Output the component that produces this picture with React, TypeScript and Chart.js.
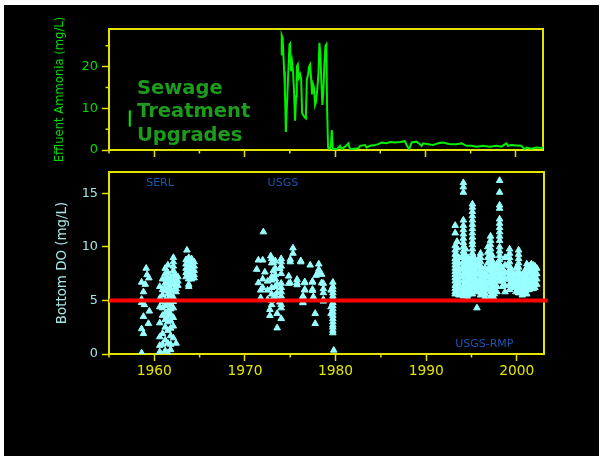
import React, { useEffect, useRef } from "react";
import { Chart, registerables } from "chart.js";

Chart.register(...registerables);

// ---- axis ranges -------------------------------------------------------
const YEAR_MIN = 1955;
const YEAR_MAX = 2003;
const AMMONIA_MAX = 29;
const DO_MAX = 17;

// ---- effluent ammonia (mg/L): [year, value] ----------------------------
const ammoniaSeries: [number, number][] = [
  [1974.04, 22.9], [1974.1, 27.5], [1974.2, 26.9], [1974.37, 18.9], [1974.45, 15.0],
  [1974.56, 4.3], [1974.74, 14.0], [1974.96, 25.3], [1975.03, 25.5], [1975.14, 18.9],
  [1975.25, 20.9], [1975.36, 18.5], [1975.47, 14.0], [1975.58, 7.0], [1975.69, 12.8],
  [1975.77, 20.0], [1975.88, 20.5], [1975.99, 17.3], [1976.14, 18.1], [1976.25, 16.9],
  [1976.36, 8.8], [1976.5, 8.3], [1976.66, 7.8], [1976.77, 7.6], [1976.88, 16.9],
  [1977.02, 18.1], [1977.13, 20.0], [1977.24, 20.5], [1977.35, 17.3], [1977.46, 13.3],
  [1977.57, 15.7], [1977.68, 14.9], [1977.79, 10.8], [1977.9, 11.6], [1978.01, 14.0],
  [1978.16, 18.1], [1978.27, 25.7], [1978.38, 22.9], [1978.49, 16.1], [1978.6, 10.8],
  [1978.71, 14.0], [1978.82, 20.5], [1978.93, 24.9], [1979.04, 25.3], [1979.12, 10.0],
  [1979.23, 0.6], [1979.37, 0.2], [1979.53, 0.8], [1979.64, 4.8], [1979.7, 2.4],
  [1979.78, 0.0], [1980.0, 0.3], [1980.18, 0.1], [1980.55, 1.0], [1980.74, 0.2],
  [1981.1, 0.8], [1981.47, 1.6], [1981.66, 0.2], [1982.57, 0.4], [1982.76, 1.0],
  [1983.3, 1.2], [1983.5, 0.6], [1983.86, 1.0], [1984.42, 1.2], [1984.78, 1.4],
  [1985.15, 1.8], [1985.7, 1.6], [1986.07, 1.9], [1986.62, 1.8], [1987.17, 1.9],
  [1987.73, 2.1], [1987.91, 1.2], [1988.2, 0.2], [1988.47, 1.8], [1989.02, 2.0],
  [1989.38, 1.4], [1989.57, 1.0], [1989.75, 1.6], [1990.3, 1.4], [1990.85, 1.2],
  [1991.4, 1.6], [1991.95, 1.8], [1992.69, 1.4], [1993.43, 1.4], [1993.98, 1.6],
  [1994.54, 1.0], [1995.09, 1.0], [1995.64, 0.8], [1996.37, 1.0], [1997.1, 0.8],
  [1997.85, 1.0], [1998.4, 0.8], [1998.95, 1.6], [1999.13, 1.0], [1999.5, 1.2],
  [2000.06, 1.1], [2000.6, 1.0], [2000.97, 0.2], [2001.16, 0.6], [2001.7, 0.3],
  [2002.26, 0.6], [2002.8, 0.5], [2003.0, 0.6],
];

// short upright tick beside the upgrade note
const upgradeMarker: [number, number][] = [[1957.3, 5.6], [1957.3, 9.5]];
const upgradeNote = ["Sewage", "Treatment", "Upgrades"];
const upgradeNoteAt: [number, number] = [1958.1, 13.4];

// ---- bottom dissolved oxygen (mg/L), grouped by sampling date -----------
const serlDO: [number, number[]][] = [
  [1958.6, [6.7, 5.1, 4.8, 2.35, 0.1]],
  [1958.8, [5.8, 3.5, 1.9]],
  [1958.9, [4.6]],
  [1959.0, [6.5]],
  [1959.1, [8.0]],
  [1959.2, [7.4]],
  [1959.35, [2.85]],
  [1959.4, [7.1]],
  [1959.45, [4.0]],
  [1960.6, [6.3, 5.2, 4.4, 2.9, 1.6, 0.8, 0.2, 0.1]],
  [1960.9, [7.0, 6.0, 5.5, 4.9, 4.3, 3.6, 1.9, 0.9]],
  [1961.2, [8.0, 7.5, 7.0, 6.6, 6.2, 5.9, 5.0, 4.5, 3.8, 3.2, 2.5, 1.3, 0.3]],
  [1961.5, [8.3, 7.6, 7.2, 6.8, 6.3, 5.6, 5.1, 4.8, 4.0, 3.5, 3.0, 2.2, 1.0, 0.1]],
  [1961.8, [7.0, 6.5, 6.0, 5.5, 5.0, 4.6, 4.2, 3.7, 3.1, 2.4, 1.7, 0.9, 0.4]],
  [1962.1, [9.0, 8.6, 8.2, 7.8, 7.4, 6.9, 6.5, 5.9, 5.3, 4.9, 4.3, 3.4, 2.6, 1.5]],
  [1962.4, [7.3, 7.0, 6.7, 6.4, 6.1, 5.8, 1.0]],
  [1962.6, [7.2, 6.8, 6.4]],
  [1963.5, [8.8, 8.4, 8.0, 7.6, 7.2]],
  [1963.6, [9.7]],
  [1963.8, [9.0, 8.6, 8.2, 7.8, 7.4, 7.0, 6.5, 6.3]],
  [1964.1, [8.9, 8.5, 8.1, 7.7, 7.3, 7.0]],
  [1964.4, [8.6, 8.2, 7.8, 7.4, 7.1]],
];

const usgsDO: [number, number[]][] = [
  [1971.3, [7.9]],
  [1971.48, [8.77, 6.65]],
  [1971.74, [5.96, 5.25]],
  [1971.96, [8.77, 7.0, 6.2]],
  [1972.03, [11.4]],
  [1972.2, [7.65]],
  [1972.5, [6.8, 5.96, 5.09]],
  [1972.75, [4.15, 3.59]],
  [1972.85, [9.15]],
  [1972.95, [8.9, 8.5, 7.2, 6.9, 6.2, 5.6, 5.0, 4.6]],
  [1973.14, [8.53, 7.8]],
  [1973.35, [8.7, 8.0, 7.4, 7.0, 6.3, 5.5, 5.2]],
  [1973.55, [6.5, 5.72, 3.78, 2.43]],
  [1973.85, [7.97, 4.84]],
  [1974.0, [8.9, 8.6, 8.2, 7.5, 6.6, 6.2, 5.8, 5.4, 4.6, 4.3, 3.3]],
  [1974.83, [7.27, 6.59]],
  [1975.0, [8.6, 8.84, 6.65]],
  [1975.3, [9.9, 9.4]],
  [1975.75, [6.96, 6.46, 6.65]],
  [1976.16, [8.6, 8.7]],
  [1976.4, [5.34, 4.78, 5.4, 4.84]],
  [1976.6, [6.74, 6.03, 5.96, 6.65]],
  [1977.2, [8.3]],
  [1977.45, [6.78, 6.03, 5.93, 6.7]],
  [1977.55, [5.34]],
  [1977.75, [3.78, 2.84]],
  [1977.85, [7.34]],
  [1978.15, [8.4, 7.9, 7.53]],
  [1978.47, [6.65, 7.43]],
  [1978.65, [6.59, 6.09, 5.72, 4.93, 5.09]],
  [1979.5, [5.96, 4.4, 3.78]],
  [1979.7, [6.7, 6.3, 6.0, 5.7, 5.4, 5.1, 4.8, 4.5, 4.2, 3.9, 3.6, 3.3, 3.0, 2.7, 2.5, 2.2, 1.97]],
  [1979.8, [0.35]],
];

const rmpDO: [number, number[]][] = [
  [1993.2, [12.0, 11.3, 10.1, 9.7, 9.3, 8.9, 8.6, 8.3, 8.0, 7.7, 7.4, 7.1, 6.8, 6.4, 6.1, 5.8, 5.6]],
  [1993.4, [10.5, 9.9, 9.2, 8.4, 7.8, 7.0, 6.3, 5.7]],
  [1993.6, [9.0, 8.5, 8.0, 7.6, 7.2, 6.9, 6.5, 6.2, 5.9, 5.5]],
  [1994.1, [16.0, 15.6, 15.1, 12.5, 12.0, 11.6, 11.2, 10.8, 10.4, 10.0, 9.6, 9.3, 9.0, 8.6, 8.2, 7.9, 7.5, 7.2, 6.8, 6.4, 6.1, 5.7, 5.4]],
  [1994.35, [9.8, 9.2, 8.7, 8.0, 7.4, 6.7, 6.0, 5.6]],
  [1994.6, [9.0, 8.5, 8.1, 7.7, 7.3, 6.9, 6.6, 6.2, 5.8, 5.5, 5.2]],
  [1994.85, [8.8, 8.2, 7.6, 7.0, 6.4, 5.9]],
  [1995.1, [14.0, 13.7, 13.3, 12.9, 12.5, 12.1, 11.7, 11.3, 10.9, 10.5, 10.2, 9.8, 9.4, 9.0, 8.6, 8.3, 7.9, 7.5, 7.2, 6.9, 6.5, 6.2, 5.9, 5.6]],
  [1995.3, [9.0, 8.4, 7.8, 7.1, 6.4, 5.9]],
  [1995.5, [8.5, 8.0, 7.5, 7.0, 6.6, 6.2, 5.8]],
  [1995.6, [4.3]],
  [1995.8, [8.9, 8.3, 7.5, 6.8, 6.1]],
  [1996.0, [9.4, 9.0, 8.6, 8.2, 7.8, 7.4, 7.0, 6.6, 6.2, 5.8, 5.5]],
  [1996.25, [7.9, 7.3, 6.7, 6.1, 5.6]],
  [1996.5, [8.0, 7.6, 7.2, 6.8, 6.4, 6.0, 5.6, 5.3]],
  [1996.8, [10.0, 9.5, 9.0, 8.5, 7.9, 7.2, 6.6, 6.0]],
  [1997.1, [11.0, 10.6, 10.2, 9.8, 9.4, 9.0, 8.6, 8.2, 7.8, 7.4, 7.0, 6.6, 6.2, 5.8, 5.4, 5.2]],
  [1997.3, [9.2, 8.6, 8.0, 7.3, 6.7, 6.1, 5.5]],
  [1997.5, [8.4, 8.0, 7.6, 7.2, 6.8, 6.4, 6.0, 5.6, 5.2]],
  [1997.8, [8.4, 8.0, 7.5, 7.0, 6.3, 5.8]],
  [1998.1, [16.2, 15.1, 13.9, 13.6, 12.6, 12.2, 11.8, 11.4, 11.0, 10.6, 10.0, 9.6, 9.2, 8.8, 8.4, 8.0, 7.6, 7.2, 6.8]],
  [1998.4, [8.0, 7.5, 7.1, 6.8, 6.3]],
  [1998.7, [9.0, 8.3, 7.6, 7.0, 6.4, 5.8]],
  [1999.0, [9.0, 8.3, 7.6, 7.0]],
  [1999.2, [9.8, 9.4, 9.0, 8.6, 8.2, 7.8, 7.4, 7.0, 6.5, 6.0]],
  [1999.4, [7.8, 7.2, 6.6, 6.2]],
  [1999.6, [7.5, 7.1, 6.8, 6.4]],
  [1999.9, [8.0, 7.4, 6.8, 6.3, 5.8]],
  [2000.2, [9.7, 9.3, 8.9, 8.5, 8.1, 7.7, 7.3, 6.9, 6.5, 6.1, 5.7]],
  [2000.6, [7.4, 7.0, 6.6, 6.2, 5.8, 5.5]],
  [2000.9, [7.8, 7.2, 6.8, 6.3, 5.9]],
  [2001.1, [8.4, 8.0, 7.6, 7.2, 6.8, 6.4, 6.0, 5.6]],
  [2001.35, [8.2, 7.6, 7.0, 6.5, 6.0]],
  [2001.6, [8.4, 8.1, 7.7, 7.3, 6.9, 6.5, 6.1]],
  [2001.8, [8.3, 7.7, 7.1, 6.6, 6.1]],
  [2002.0, [8.2, 7.8, 7.4, 7.0, 6.6, 6.2]],
  [2002.2, [8.0, 7.5, 7.0, 6.5]],
];

// dissolved-oxygen standard (mg/L), drawn across the whole record
const doStandard = 5;
const doStandardSpan: [number, number] = [1955, 2003.4];

const surveyNames = ["SERL", "USGS", "USGS-RMP"];
const surveyNameAt: [number, number][] = [[1959.1, 15.66], [1972.5, 15.66], [1993.2, 0.62]];

// ---- styling -------------------------------------------------------------
const FONT = '"DejaVu Sans", Verdana, sans-serif';
const YELLOW = "#e3e300";
const LINE_GREEN = "#00ee00";
const LABEL_GREEN = "#00dc00";
const NOTE_GREEN = "#1d9b1d";
const CYAN_TEXT = "#a4e6e6";
const POINT_CYAN = "#99ffff";
const SURVEY_BLUE = "#1a55b0";
const CLEAR = "rgba(0,0,0,0)";

const toXY = (pairs: [number, number][]) => pairs.map(([x, y]) => ({ x, y }));
const flatten = (groups: [number, number[]][]) =>
  groups.flatMap(([x, ys]) => ys.map((y) => ({ x, y })));

// yellow box around each panel, plus the short minor ticks
const framePlugin = {
  id: "panelFrame",
  beforeDatasetsDraw(chart: any) {
    const { ctx, chartArea: a } = chart;
    ctx.save();
    ctx.strokeStyle = YELLOW;
    ctx.lineWidth = 2;
    ctx.strokeRect(a.left, a.top, a.right - a.left, a.bottom - a.top);
    ctx.restore();
  },
  afterDraw(chart: any, _args: any, opts: any) {
    const { ctx, chartArea: a, scales } = chart;
    ctx.save();
    ctx.strokeStyle = YELLOW;
    ctx.lineWidth = 1.5;
    ctx.beginPath();
    for (const yr of opts.minorX || []) {
      const px = scales.x.getPixelForValue(yr);
      ctx.moveTo(px, a.bottom);
      ctx.lineTo(px, a.bottom + 3.5);
    }
    for (const v of opts.minorY || []) {
      const py = scales.y.getPixelForValue(v);
      ctx.moveTo(a.left, py);
      ctx.lineTo(a.left - 3.5, py);
    }
    ctx.stroke();
    ctx.restore();
  },
};

// free text placed at data coordinates
const notesPlugin = {
  id: "panelNotes",
  afterDatasetsDraw(chart: any, _args: any, opts: any) {
    const { ctx, scales } = chart;
    for (const n of opts.notes || []) {
      ctx.save();
      ctx.font = n.font;
      ctx.fillStyle = n.color;
      ctx.textAlign = "left";
      ctx.textBaseline = "alphabetic";
      const px = scales.x.getPixelForValue(n.at[0]);
      const py = scales.y.getPixelForValue(n.at[1]);
      n.lines.forEach((line: string, i: number) => ctx.fillText(line, px, py + i * (n.gap || 0)));
      ctx.restore();
    }
  },
};

const minorYears = [1955, 1965, 1975, 1985, 1995];
const isDecade = (v: number) => Math.round(v) % 10 === 0;

function yearAxis(showLabels: boolean, height: number) {
  return {
    type: "linear" as const,
    min: YEAR_MIN,
    max: YEAR_MAX,
    afterFit: (s: any) => {
      s.height = height;
    },
    border: { display: false },
    grid: {
      drawOnChartArea: false,
      drawTicks: true,
      tickLength: 7,
      tickWidth: 1.5,
      tickColor: (c: any) => (c.tick && isDecade(c.tick.value) ? YELLOW : CLEAR),
    },
    ticks: {
      display: showLabels,
      stepSize: 5,
      includeBounds: false,
      autoSkip: false,
      maxRotation: 0,
      padding: 2,
      color: YELLOW,
      font: { family: FONT, size: 13.8 },
      callback: (v: any) => (isDecade(Number(v)) ? String(v) : ""),
    },
  };
}

export default function App() {
  const topRef = useRef<HTMLCanvasElement>(null);
  const bottomRef = useRef<HTMLCanvasElement>(null);

  useEffect(() => {
    const top = new Chart(topRef.current as HTMLCanvasElement, {
      type: "scatter",
      data: {
        datasets: [
          {
            data: toXY(ammoniaSeries),
            showLine: true,
            borderColor: LINE_GREEN,
            borderWidth: 2,
            pointRadius: 0,
            tension: 0,
          },
          {
            data: toXY(upgradeMarker),
            showLine: true,
            borderColor: LINE_GREEN,
            borderWidth: 2,
            pointRadius: 0,
          },
        ],
      },
      plugins: [framePlugin, notesPlugin],
      options: {
        responsive: false,
        animation: false,
        layout: { padding: { left: 40, top: 29, right: 61, bottom: 299 } },
        plugins: {
          legend: { display: false },
          tooltip: { enabled: false },
          panelFrame: { minorX: minorYears, minorY: [5, 15, 25] },
          panelNotes: {
            notes: [
              {
                lines: upgradeNote,
                at: upgradeNoteAt,
                gap: 23.3,
                font: `bold 19.5px ${FONT}`,
                color: NOTE_GREEN,
              },
            ],
          },
        } as any,
        scales: {
          x: yearAxis(false, 10) as any,
          y: {
            min: 0,
            max: AMMONIA_MAX,
            afterFit: (s: any) => {
              s.width = 69;
            },
            border: { display: false },
            grid: {
              drawOnChartArea: false,
              tickLength: 7,
              tickWidth: 1.5,
              tickColor: (c: any) => (c.tick && isDecade(c.tick.value) ? YELLOW : CLEAR),
            },
            ticks: {
              stepSize: 5,
              includeBounds: false,
              padding: 4,
              color: LABEL_GREEN,
              font: { family: FONT, size: 13 },
              callback: (v: any) => (isDecade(Number(v)) ? String(v) : ""),
            },
            title: {
              display: true,
              text: "Effluent Ammonia (mg/L)",
              color: LABEL_GREEN,
              font: { family: FONT, size: 11.6 },
              padding: { top: 13, bottom: 0 },
            },
          } as any,
        },
      },
    });

    const bottom = new Chart(bottomRef.current as HTMLCanvasElement, {
      type: "scatter",
      data: {
        datasets: [
          {
            data: [
              { x: doStandardSpan[0], y: doStandard },
              { x: doStandardSpan[1], y: doStandard },
            ],
            showLine: true,
            borderColor: "#ff0000",
            borderWidth: 4,
            pointRadius: 0,
            clip: false,
            order: 0,
          },
          {
            data: [...flatten(serlDO), ...flatten(usgsDO), ...flatten(rmpDO)],
            pointStyle: "triangle",
            pointRadius: 3.8,
            borderWidth: 1,
            backgroundColor: POINT_CYAN,
            borderColor: POINT_CYAN,
            order: 1,
          },
        ],
      },
      plugins: [framePlugin, notesPlugin],
      options: {
        responsive: false,
        animation: false,
        layout: { padding: { left: 40, top: 172, right: 60, bottom: 75 } },
        plugins: {
          legend: { display: false },
          tooltip: { enabled: false },
          panelFrame: { minorX: minorYears },
          panelNotes: {
            notes: surveyNames.map((name, i) => ({
              lines: [name],
              at: surveyNameAt[i],
              font: `11px ${FONT}`,
              color: SURVEY_BLUE,
            })),
          },
        } as any,
        scales: {
          x: yearAxis(true, 30) as any,
          y: {
            min: 0,
            max: DO_MAX,
            afterFit: (s: any) => {
              s.width = 69;
            },
            border: { display: false },
            grid: {
              drawOnChartArea: false,
              tickLength: 7,
              tickWidth: 1.5,
              tickColor: YELLOW,
            },
            ticks: {
              stepSize: 5,
              includeBounds: false,
              padding: 4,
              color: CYAN_TEXT,
              font: { family: FONT, size: 12.8 },
            },
            title: {
              display: true,
              text: "Bottom DO (mg/L)",
              color: CYAN_TEXT,
              font: { family: FONT, size: 13.4 },
              padding: { top: 14, bottom: 0 },
            },
          } as any,
        },
      },
    });

    return () => {
      top.destroy();
      bottom.destroy();
    };
  }, []);

  return (
    <div style={{ position: "fixed", left: 0, top: 0, width: 604, height: 459, background: "#fff" }}>
      <div style={{ position: "absolute", left: 4, top: 5, width: 595, height: 451, background: "#000" }} />
      <canvas ref={topRef} width={604} height={459} style={{ position: "absolute", left: 0, top: 0 }} />
      <canvas ref={bottomRef} width={604} height={459} style={{ position: "absolute", left: 0, top: 0 }} />
    </div>
  );
}
